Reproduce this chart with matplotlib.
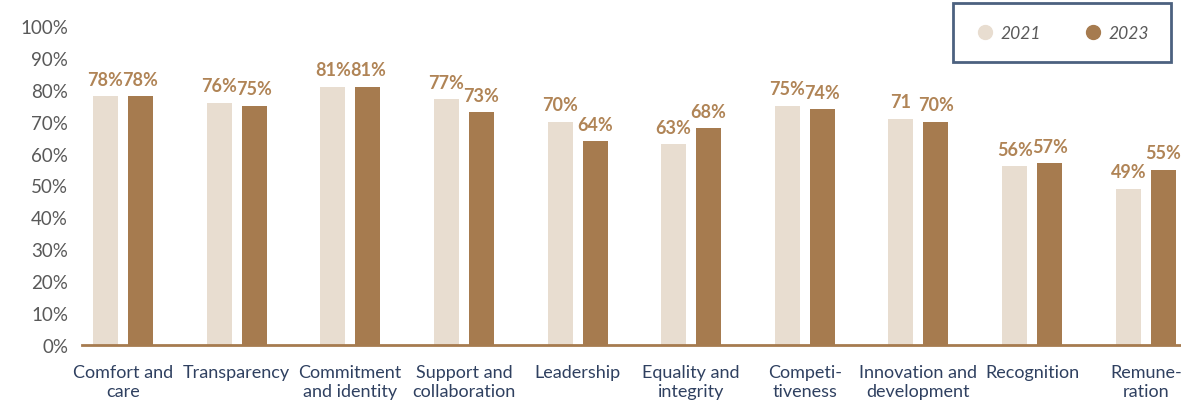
import matplotlib.pyplot as plt
import numpy as np

categories = ["Comfort and\ncare", "Transparency", "Commitment\nand identity", "Support and\ncollaboration",
              "Leadership", "Equality and\nintegrity", "Competi-\ntiveness", "Innovation and\ndevelopment",
              "Recognition", "Remune-\nration"]
values_2021 = [78, 76, 81, 77, 70, 63, 75, 71, 56, 49]
values_2023 = [78, 75, 81, 73, 64, 68, 74, 70, 57, 55]
labels_2021 = ["78%", "76%", "81%", "77%", "70%", "63%", "75%", "71", "56%", "49%"]
labels_2023 = ["78%", "75%", "81%", "73%", "64%", "68%", "74%", "70%", "57%", "55%"]

c2021 = "#E8DDD0"
c2023 = "#A67B4F"
label_color = "#B08456"
navy = "#1F3A5F"

plt.rcParams['font.family'] = ['Lato', 'DejaVu Sans']

fig = plt.figure(figsize=(11.81, 4.06), dpi=100)
ax = fig.add_axes([82 / 1181, 1 - 346 / 406, 1 - 82 / 1181, 319 / 406])

x = np.arange(len(categories))
w = 0.22
off = 0.154
b1 = ax.bar(x - off, np.array(values_2021) / 100, w, color=c2021, label="2021")
b2 = ax.bar(x + off, np.array(values_2023) / 100, w, color=c2023, label="2023")

for bars, labs in ((b1, labels_2021), (b2, labels_2023)):
    for b, t in zip(bars, labs):
        ax.annotate(t, (b.get_x() + b.get_width() / 2, b.get_height()), xytext=(0, 6),
                    textcoords="offset points", ha="center", va="bottom",
                    color=label_color, fontsize=13, fontweight="bold")

ax.set_ylim(0, 1)
ax.set_xlim(-0.36, 9.31)
ax.set_yticks(np.arange(0, 1.01, 0.1))
ax.set_yticklabels([f"{int(v)}%" for v in np.arange(0, 101, 10)], color="#595959", fontsize=13.5)
ax.set_xticks(x)
ax.set_xticklabels(categories, color="#2F4060", fontsize=13, linespacing=1.2)
ax.tick_params(axis="both", length=0)
ax.tick_params(axis="x", pad=14)
ax.tick_params(axis="y", pad=10)
for s in ("top", "right", "left"):
    ax.spines[s].set_visible(False)
ax.spines["bottom"].set_color(c2023)
ax.spines["bottom"].set_linewidth(2)

h1 = plt.Line2D([], [], marker="o", ls="", color=c2021, markersize=10)
h2 = plt.Line2D([], [], marker="o", ls="", color=c2023, markersize=10)
leg = fig.legend([h1, h2], ["2021", "2023"], ncol=2, loc="upper left",
                 bbox_to_anchor=(953 / 1181, 1 - 4 / 406),
                 frameon=True, fancybox=False, borderpad=1.25, borderaxespad=0,
                 handlelength=1.2, handletextpad=0.3, columnspacing=2.4,
                 prop={"style": "italic", "size": 12.5})
leg.get_frame().set_edgecolor(navy)
leg.get_frame().set_linewidth(2)
for t in leg.get_texts():
    t.set_color("#595959")

fig.savefig("out.png", dpi=100)
